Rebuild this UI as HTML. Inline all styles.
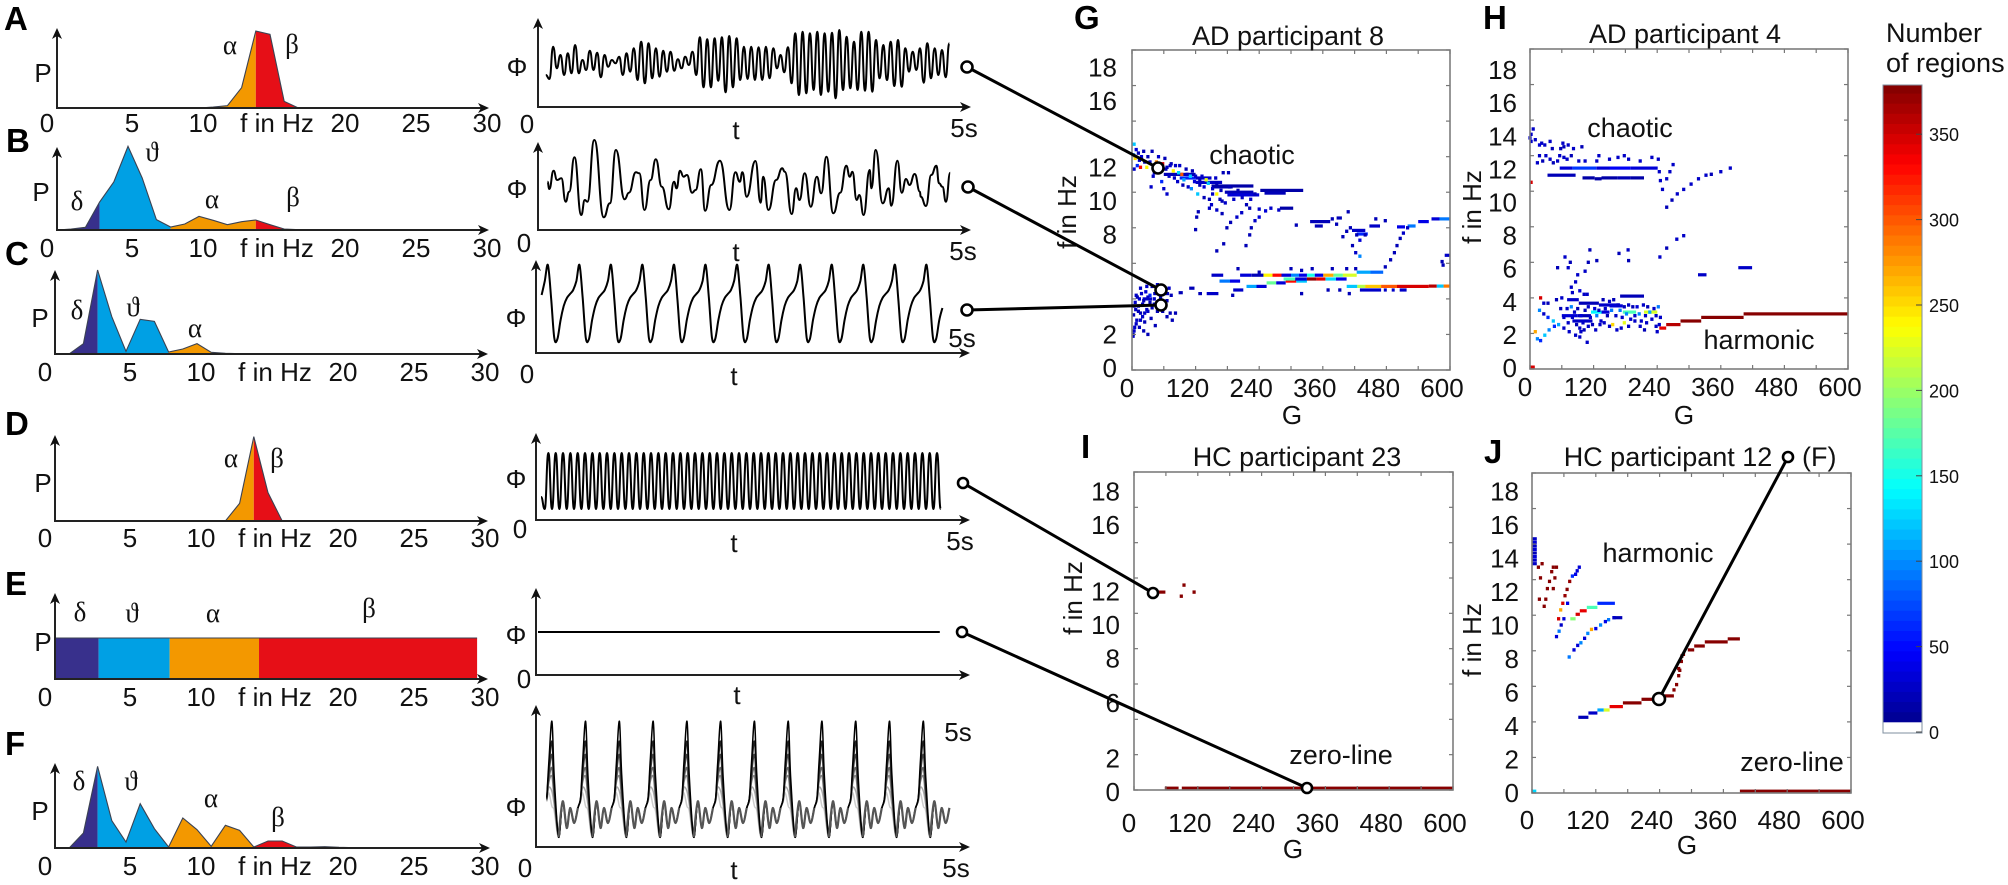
<!DOCTYPE html>
<html lang="en">
<head>
<meta charset="utf-8">
<title>Spectra, time series and bifurcation panels</title>
<style>
html,body{margin:0;padding:0;background:#fff;}
svg{display:block;}
text{font-family:"Liberation Sans",sans-serif;fill:#111;}
.t26{font-size:26px;}
.t27{font-size:27px;}
.letter{font-size:33px;font-weight:bold;fill:#000;}
.greek{font-family:"Liberation Serif","DejaVu Serif",serif;font-size:27px;}
</style>
</head>
<body>
<svg id="figure" xmlns="http://www.w3.org/2000/svg" width="2008" height="885" viewBox="0 0 2008 885">
<rect x="0" y="0" width="2008" height="885" fill="#fff"/>
<g id="marks"></g>

<g>
<text class="letter" x="4" y="30">A</text>
<text class="letter" x="6" y="152">B</text>
<text class="letter" x="5" y="265">C</text>
<text class="letter" x="5" y="435">D</text>
<text class="letter" x="5" y="595">E</text>
<text class="letter" x="5" y="755">F</text>
<text class="letter" x="1074" y="29">G</text>
<text class="letter" x="1483" y="29">H</text>
<text class="letter" x="1081" y="458">I</text>
<text class="letter" x="1484" y="463">J</text>
</g>

<g text-anchor="middle" class="t26">
<text x="43" y="82">P</text>
<text x="41" y="201">P</text>
<text x="40" y="327">P</text>
<text x="43" y="492">P</text>
<text x="43" y="651">P</text>
<text x="40" y="820">P</text>
</g>

<g text-anchor="middle" class="greek">
<text class="greek" x="230" y="54">α</text>
<text class="greek" x="292" y="53">β</text>
<text class="greek" x="77" y="210">δ</text>
<text class="greek" x="152" y="161">ϑ</text>
<text class="greek" x="212" y="208">α</text>
<text class="greek" x="293" y="206">β</text>
<text class="greek" x="77" y="319">δ</text>
<text class="greek" x="133" y="316">ϑ</text>
<text class="greek" x="195" y="337">α</text>
<text class="greek" x="231" y="467">α</text>
<text class="greek" x="277" y="467">β</text>
<text class="greek" x="80" y="621">δ</text>
<text class="greek" x="132" y="622">ϑ</text>
<text class="greek" x="213" y="622">α</text>
<text class="greek" x="369" y="617">β</text>
<text class="greek" x="79" y="790">δ</text>
<text class="greek" x="131" y="790">ϑ</text>
<text class="greek" x="211" y="807">α</text>
<text class="greek" x="278" y="826">β</text>
</g>

<g text-anchor="middle" class="t26">
<text x="517" y="76">Φ</text>
<text x="517" y="198">Φ</text>
<text x="516" y="327">Φ</text>
<text x="516" y="488">Φ</text>
<text x="516" y="644">Φ</text>
<text x="516" y="816">Φ</text>
<text x="527" y="133">0</text>
<text x="524" y="252">0</text>
<text x="527" y="383">0</text>
<text x="520" y="538">0</text>
<text x="524" y="688">0</text>
<text x="525" y="877">0</text>
<text x="736" y="139">t</text>
<text x="736" y="261">t</text>
<text x="734" y="385">t</text>
<text x="734" y="552">t</text>
<text x="737" y="704">t</text>
<text x="734" y="879">t</text>
<text x="964" y="137">5s</text>
<text x="963" y="260">5s</text>
<text x="962" y="347">5s</text>
<text x="960" y="550">5s</text>
<text x="958" y="741">5s</text>
<text x="956" y="877">5s</text>
</g>

<g text-anchor="middle" class="t27">
<text x="1288" y="45">AD participant 8</text>
<text x="1685" y="43">AD participant 4</text>
<text x="1297" y="466">HC participant 23</text>
<text x="1668" y="466">HC participant 12</text>
<text x="1802" y="466" text-anchor="start">(F)</text>
</g>

<g text-anchor="middle" class="t26">
<text x="1292" y="424">G</text>
<text x="1684" y="424">G</text>
<text x="1293" y="858">G</text>
<text x="1687" y="854">G</text>
<text transform="translate(1076 212) rotate(-90)">f in Hz</text>
<text transform="translate(1481 207) rotate(-90)">f in Hz</text>
<text transform="translate(1082 598) rotate(-90)">f in Hz</text>
<text transform="translate(1481 640) rotate(-90)">f in Hz</text>
</g>

<g text-anchor="middle" class="t27">
<text x="1252" y="164">chaotic</text>
<text x="1630" y="137">chaotic</text>
<text x="1759" y="349">harmonic</text>
<text x="1341" y="764">zero-line</text>
<text x="1658" y="562">harmonic</text>
<text x="1792" y="771">zero-line</text>
</g>

<g class="t27">
<text x="1886" y="42">Number</text>
<text x="1886" y="72">of regions</text>
</g>
<g id="overlay"></g>
</svg>

<script>
/* ---------- spectra: power per 1 Hz bin, index = frequency in Hz ---------- */
const spectrumA = [0,0,0,0,0,0,0,0,0,0,0,3,7,61,231,221,20,0,0,0,0,0,0,0,0,0,0,0,0,0,0];
const spectrumB = [0,3,8,84,144,251,156,31,9,18,41,29,16,25,30,16,3,1,1,1,0,0,0,0,0,0,0,0,0,0,0];
const spectrumC = [0,0,31,252,112,8,104,98,6,15,31,5,2,1,1,0,1,1,0,0,0,0,0,0,0,0,0,0,0,0,0];
const spectrumD = [0,0,0,0,0,0,0,0,0,0,0,0,0,53,253,85,0,0,0,0,0,0,0,0,0,0,0,0,0,0,0];
const spectrumE = [123,123,123,123,123,123,123,123,123,123,123,123,123,123,123,123,123,123,123,123,123,123,123,123,123,123,123,123,123,123,123];
const spectrumF = [0,0,45,245,82,18,133,58,3,90,55,5,68,53,3,21,21,3,3,4,2,1,1,1,0,0,0,0,0,0,0];
const freqTickValues = [0,5,10,20,25,30];
const bandEdges = [3,8,14];
const bandEdgesE = [3.1,8.15,14.5];

/* ---------- time series (potential in arbitrary units) ---------- */
const traceA = [96,84,181,116,156,96,161,101,186,101,141,111,169,111,163,89,156,121,141,131,151,96,161,106,176,81,196,71,191,86,176,91,169,106,166,109,143,116,151,126,166,96,209,59,203,59,206,79,209,44,213,59,206,81,181,84,181,81,179,81,181,86,176,116,156,104,179,71,221,36,226,41,221,51,226,36,221,46,223,26,231,51,211,56,196,51,226,49,226,46,201,86,186,81,196,63,201,61,176,106,166,111,176,73,191,86,176,96,171,89,191];
const traceBTime = [0.11,0.13,0.18,0.22,0.27,0.32,0.36,0.42,0.50,0.54,0.57,0.65,0.76,0.83,0.90,1.00,1.05,1.13,1.17,1.23,1.30,1.36,1.43,1.51,1.57,1.60,1.64,1.68,1.72,1.78,1.82,1.88,1.93,2.00,2.10,2.21,2.28,2.33,2.36,2.41,2.51,2.57,2.60,2.66,2.75,2.82,2.85,2.93,2.98,3.02,3.08,3.15,3.22,3.27,3.33,3.41,3.49,3.56,3.60,3.63,3.68,3.71,3.76,3.83,3.85,3.90,3.98,4.05,4.08,4.15,4.20,4.25,4.29,4.35,4.41,4.42,4.48,4.54,4.60,4.63,4.67,4.71,4.76];
const traceBValue = [145,123,178,150,155,85,115,218,45,90,85,270,38,80,240,92,112,173,170,60,150,212,130,62,145,125,178,160,165,112,120,182,58,135,208,60,173,145,173,100,207,82,160,60,150,185,175,48,125,90,170,70,160,110,220,50,112,193,160,175,90,105,45,180,125,240,80,125,73,208,112,153,135,168,115,100,72,165,193,140,130,85,172];
const traceC = [58,72,
88,55,15,14,33,47,55,59,63,72,88,55,15,14,33,47,55,59,63,72,88,55,15,14,33,47,55,59,63,72,
88,55,15,14,33,47,55,59,63,72,88,55,15,14,33,47,55,59,63,72,88,55,15,14,33,47,55,59,63,72,
88,55,15,14,33,47,55,59,63,72,88,55,15,14,33,47,55,59,63,72,88,55,15,14,33,47,55,59,63,72,
88,55,15,14,33,47,55,59,63,72,88,55,15,14,33,47,55,59,63,72,88,55,15,14,33,47,55,59,63,72,
88,55,15,14,33,45];
const traceD = [23,11,67,11,67,11,67,11,67,11,67,11,67,11,67,11,67,11,67,11,67,11,67,11,67,11,67,11,67,11,67,11,67,11,67,11,67,11,67,11,67,11,67,11,67,11,67,11,67,11,67,11,67,11,67,11,67,11,67,11,67,11,67,11,67,11,67,11,67,11,67,11,67,11,67,11,67,11,67,11,67,11,67,11,67,11,67,11,67,11,67,11,67,11,67,11,67,11,67,11,67,11,67,11,67,11,67,11,67,11];
const traceE = [43,43];
const traceFPeakTimes = [0.16,0.55,0.94,1.33,1.72,2.11,2.50,2.89,3.28,3.67,4.06,4.45];
const traceFLayerPeaks = [122,167,212,237,277,317,377];
const traceFCyclePhase = [0,0.07,0.20,0.32,0.44,0.54,0.66,0.77,0.85,0.91];
const traceFCycleValue = [0,60,30,137,57,117,72,117,130,120];
const traceFCyclePeakShare = [1,0.4,0,0,0,0,0,0,0.05,0.35];

/* ---------- bifurcation heatmaps: [G start, G end, f in Hz, number of regions] ---------- */
const runsG = [[88,96,4.35,20],[108,118,4.6,20],[125,132,4.3,20],[141,163,4.3,25],[150,172,5.33,25],[165,185,5.0,90],[185,204,5.0,40],[204,225,5.33,30],[225,248,5.33,20],[248,265,5.33,240],[265,282,5.33,330],[282,300,5.33,30],[300,315,5.33,100],[315,330,5.33,40],[330,345,5.33,150],[345,361,5.33,40],[361,380,5.33,270],[380,398,5.33,180],[398,424,5.33,220],[424,450,5.5,110],[450,474,5.5,85],[216,235,4.7,110],[235,254,4.7,30],[254,272,4.9,180],[272,290,4.9,30],[290,310,5.0,330],[310,330,5.0,120],[286,308,5.12,170],[308,330,5.12,30],[330,348,5.12,370],[348,365,5.12,340],[365,385,5.12,130],[385,405,5.12,40],[191,210,4.5,25],[405,425,4.7,120],[425,440,4.7,210],[440,470,4.7,260],[470,500,4.7,300],[500,560,4.7,345],[560,575,4.72,360],[575,588,4.72,120],[588,600,4.72,290],[430,470,4.5,25],[475,480,4.5,25],[490,495,4.5,25],[505,518,4.5,25],[500,515,8.05,40],[520,535,8.1,90],[540,560,8.35,40],[565,580,8.5,30],[580,600,8.5,90],[60,120,11.0,18],[90,120,10.8,60],[120,150,10.8,25],[120,170,10.55,25],[150,190,10.3,20],[150,229,10.35,15],[175,229,10.0,18],[180,240,9.85,30],[242,323,10.1,15],[250,290,9.95,20],[279,304,9.1,15],[336,374,8.35,18],[386,396,8.55,18],[345,360,8.1,18],[448,468,8.1,25],[415,440,7.85,25],[424,445,7.65,60],[590,600,6.45,25],[40,70,4.3,20],[20,38,4.0,25],[46,58,4.5,22]];
const dotsG = [[4,12.7,120],[8,12.4,30],[3,12.1,100],[12,12.2,20],[6,11.9,250],[14,11.8,25],[18,12.0,30],[22,12.3,20],[10,11.5,60],[4,11.3,25],[16,11.4,330],[24,11.7,20],[30,12.0,20],[28,11.4,240],[34,11.7,30],[38,12.3,20],[42,11.1,25],[46,11.7,280],[50,12.0,25],[54,11.2,120],[58,11.6,350],[62,11.9,20],[66,11.4,20],[70,10.9,25],[74,11.6,20],[78,11.2,240],[82,11.5,25],[86,10.6,25],[90,11.5,25],[94,11.0,300],[98,10.7,110],[102,11.3,20],[106,10.3,25],[110,10.9,130],[114,11.2,20],[118,10.6,30],[124,9.9,120],[128,10.4,20],[132,10.9,25],[136,10.3,30],[140,10.7,230],[146,9.6,20],[152,10.2,25],[158,10.8,25],[160,9.9,240],[166,9.6,20],[172,11.1,20],[182,11.1,20],[120,7.9,20],[125,8.9,20],[122,8.6,20],[146,9.1,25],[150,9.3,25],[170,9.5,20],[36,10.3,25],[60,10.2,25],[66,9.9,25],[179,8.0,20],[186,8.3,20],[198,8.6,25],[207,8.85,25],[222,9.1,20],[240,9.05,25],[215,7.0,20],[222,7.6,20],[225,8.0,20],[232,8.4,25],[240,8.6,30],[252,8.95,30],[262,9.1,25],[277,9.0,25],[160,6.7,20],[173,7.1,20],[478,5.8,20],[488,6.2,20],[495,6.6,20],[500,7.0,20],[506,7.4,20],[512,7.7,25],[520,8.0,25],[398,7.5,20],[405,7.8,20],[412,8.0,20],[424,7.6,20],[430,7.3,30],[416,7.0,20],[422,6.6,25],[430,6.4,100],[440,7.6,20],[408,8.9,20],[378,8.5,20],[386,8.2,20],[478,8.4,20],[460,8.5,20],[585,6.1,20],[587,5.9,20],[310,8.15,20],[200,5.7,20],[240,5.5,20],[300,5.7,20],[320,5.6,20],[340,5.7,20],[378,5.7,20],[405,5.7,20],[422,5.7,20],[190,4.2,20],[320,4.3,20],[370,4.5,20],[392,4.5,20],[410,4.3,20],[8,4.2,25],[14,4.0,30],[4,3.6,25],[20,3.7,20],[28,3.4,25],[34,4.2,60],[12,3.3,20],[24,3.2,25],[42,3.7,30],[48,3.3,20],[16,2.8,25],[8,2.6,25],[4,2.2,25],[2,1.9,25],[56,3.9,25],[62,3.5,20],[72,3.2,20],[82,3.2,20],[66,3.0,20],[76,2.8,20],[2,2.0,20],[5,2.4,25],[9,2.8,25],[3,3.1,20],[7,3.4,25],[12,3.6,30],[16,3.2,20],[20,3.0,25],[24,2.7,20],[14,2.4,20],[6,3.8,25],[10,4.1,20],[18,4.3,25],[22,3.9,20],[26,4.4,30],[30,4.1,25],[34,3.8,20],[30,3.3,25],[38,3.5,20],[42,4.0,25],[46,4.4,20],[50,3.7,25],[54,4.1,20],[36,2.9,20],[44,2.5,20],[58,3.3,20],[62,4.4,25],[66,3.9,20],[70,4.6,25],[74,4.2,20],[28,4.7,25],[38,4.7,20],[48,4.8,25],[58,4.7,20],[16,4.6,25],[22,2.2,20],[30,2.0,20],[40,10.9,25],[48,11.2,20],[56,10.6,60],[64,11.3,20],[72,11.5,25],[80,10.8,25],[88,11.1,130],[96,10.4,20],[104,11.0,25],[112,10.2,100],[120,10.9,25],[128,10.7,20],[136,9.7,20],[144,10.5,120],[152,9.9,25],[160,10.5,20],[168,10.1,20],[176,9.4,25],[184,10.3,20],[192,9.6,25],[200,10.1,20],[208,9.7,25],[216,9.3,20],[224,9.6,25],[232,9.9,20],[160,9.0,25],[170,8.8,20]];
const runsH = [[244,257,2.3,340],[257,284,2.5,360],[284,323,2.7,375],[323,403,2.9,375],[403,600,3.1,378],[56,80,11.3,30],[80,125,11.3,70],[125,150,11.3,35],[150,190,11.3,45],[190,241,11.3,35],[33,86,10.9,18],[99,122,10.75,15],[122,135,10.7,15],[135,165,10.75,15],[165,190,10.75,18],[190,215,10.75,15],[393,419,5.7,25],[317,333,5.3,25],[70,92,3.9,25],[92,130,3.7,22],[130,170,3.6,25],[115,135,3.2,140],[135,150,3.2,30],[150,175,3.55,30],[175,200,3.2,170],[170,215,4.1,20],[215,240,3.2,220],[60,90,3.0,35],[90,115,3.0,20],[80,118,2.7,25]];
const dotsH = [[2,13.2,25],[6,13.5,25],[0,13.0,25],[2,12.8,25],[10,12.9,25],[18,12.6,30],[22,12.7,25],[28,12.6,25],[38,12.8,25],[42,12.4,20],[58,12.4,20],[62,12.7,25],[64,12.5,20],[72,12.6,25],[82,12.4,25],[98,12.5,20],[18,12.0,25],[24,11.7,20],[14,11.6,25],[30,12.0,25],[38,11.8,25],[44,11.6,20],[52,11.7,25],[56,12.0,25],[64,11.9,25],[70,11.8,25],[78,12.0,20],[92,11.7,25],[104,11.7,25],[130,12.0,25],[126,11.7,25],[150,11.8,25],[166,11.9,25],[178,12.0,25],[186,11.8,25],[208,11.7,25],[230,11.9,25],[242,11.8,25],[244,11.1,25],[246,10.6,25],[250,10.1,25],[270,11.5,25],[264,11.1,25],[258,10.7,25],[2,10.5,350],[258,9.1,20],[268,9.5,20],[278,9.85,25],[290,10.1,25],[304,10.4,25],[318,10.7,25],[332,10.9,25],[342,10.95,20],[360,11.1,25],[378,11.3,25],[245,6.3,25],[258,6.8,20],[277,7.3,25],[290,7.5,25],[185,6.7,25],[186,6.1,20],[168,6.5,20],[126,6.1,20],[113,6.7,20],[76,6.0,20],[72,5.7,25],[52,5.7,20],[66,6.3,25],[90,5.3,25],[104,5.5,25],[110,6.0,20],[86,4.9,25],[78,4.6,25],[80,4.3,25],[102,4.2,25],[94,4.4,30],[108,4.2,25],[60,4.0,25],[50,3.9,20],[34,3.7,20],[20,4.0,350],[26,3.7,25],[18,3.3,100],[26,3.1,25],[34,2.9,60],[44,2.7,120],[54,2.5,110],[64,2.3,25],[74,2.1,25],[10,2.1,270],[14,1.7,100],[20,1.6,60],[28,1.9,120],[36,2.2,100],[46,2.4,60],[96,2.1,25],[86,1.9,25],[94,1.8,25],[108,1.5,25],[124,2.2,25],[132,2.5,25],[156,2.5,250],[164,2.2,25],[178,2.6,230],[198,2.7,25],[220,2.6,25],[238,2.4,25],[240,2.1,25],[2,0.1,350],[6,0.1,350],[70,3.4,25],[78,3.5,100],[84,3.2,25],[90,3.4,20],[96,3.0,30],[100,2.6,25],[104,3.3,20],[110,3.5,25],[114,2.9,25],[118,2.5,20],[122,3.4,30],[126,3.0,90],[130,3.3,25],[134,2.7,25],[138,3.9,20],[142,3.4,25],[146,3.0,20],[150,3.8,25],[154,3.3,90],[158,3.9,20],[162,3.0,25],[166,3.6,25],[170,3.3,90],[174,2.9,25],[178,3.5,20],[182,3.1,100],[186,3.6,25],[190,2.8,25],[194,3.5,20],[198,3.0,25],[202,3.5,30],[206,3.1,100],[210,2.7,25],[214,3.6,25],[218,3.0,25],[222,3.5,20],[226,3.2,110],[230,2.8,25],[234,3.4,25],[238,3.0,25],[242,3.5,90],[246,2.9,25],[244,2.5,25],[58,3.4,20],[64,2.9,25],[72,2.6,25],[80,2.9,25],[88,2.5,20],[94,2.3,25],[102,2.2,20],[110,2.4,25],[140,2.6,25],[150,2.4,25],[172,2.3,25],[186,2.4,25],[208,2.4,25],[216,2.2,20]];
const runsI = [[28,59,11.2,378],[58,84,0.1,378],[90,600,0.1,378]];
const dotsI = [[94,11.6,378],[89,10.97,378],[113,11.2,378]];
const runsJ = [[0,9,14.3,25],[0,9,14.1,30],[0,9,13.9,25],[0,9,13.7,30],[0,9,13.5,20],[0,9,13.3,35],[0,9,13.1,25],[0,9,12.9,25],[87,106,4.26,20],[106,123,4.5,25],[123,135,4.67,110],[135,146,4.67,220],[146,171,4.86,340],[171,206,5.07,378],[206,230,5.27,378],[250,267,5.46,378],[293,305,8.05,378],[305,325,8.27,378],[325,368,8.5,378],[368,391,8.67,378],[391,600,0.1,378],[0,8,0.1,130],[72,82,9.8,190],[82,90,10.05,350],[90,103,10.25,340],[103,123,10.44,170],[123,156,10.67,60],[156,170,9.86,20]];
const dotsJ = [[46,8.8,30],[51,9.1,90],[55,9.45,25],[60,9.8,30],[50,9.8,350],[54,10.3,270],[58,10.67,350],[62,11.1,370],[66,11.45,378],[71,11.9,370],[76,12.2,60],[82,12.3,40],[85,12.5,35],[89,12.7,30],[67,10.67,40],[70,7.65,90],[79,8.05,30],[86,8.3,30],[92,8.45,100],[99,8.7,30],[105,8.98,100],[112,9.2,270],[120,9.25,40],[129,9.45,100],[138,9.64,40],[144,9.75,90],[154,9.86,25],[12,12.7,378],[19,12.9,378],[16,12.1,378],[29,11.5,378],[33,11.9,378],[37,12.45,378],[40,12.7,378],[46,12.7,378],[43,12.1,378],[40,11.5,378],[14,10.9,378],[26,10.9,378],[23,10.5,378],[267,5.8,378],[272,6.1,378],[276,6.6,378],[278,6.9,378],[276,7.0,378],[281,7.4,378],[282,7.7,378],[285,7.8,378]];

const xTickLabels = [0,120,240,360,480,600];
const xTickMarks = [0,60,120,180,240,300,360,420,480,540,600];
const yTickMarks = [0,2,4,6,8,10,12,14,16,18];
const yLabelsG = [18,16,12,10,8,2,0];
const yLabelsH = [18,16,14,12,10,8,6,4,2,0];
const yLabelsI = [18,16,12,10,8,6,2,0];
const yLabelsJ = [18,16,14,12,10,8,6,4,2,0];
const colorbarTicks = [0,50,100,150,200,250,300,350];

const SVGNS = 'http://www.w3.org/2000/svg';
const marks = document.getElementById('marks');
const overlay = document.getElementById('overlay');

function mk(parent, tag, name, attrs) {
  const el = document.createElementNS(SVGNS, tag);
  
  
  for (const k in attrs) el.setAttribute(k, attrs[k]);
  parent.appendChild(el);
  return el;
}
function label(parent, name, x, y, str, size, anchor) {
  const el = mk(parent, 'text', name, {x: x, y: y, 'text-anchor': anchor || 'middle', 'font-size': size});
  el.textContent = str;
  return el;
}
function upArrow(parent, name, x, yBottom, yTop) {
  mk(parent, 'line', name + '-line', {x1: x, y1: yBottom, x2: x, y2: yTop + 4, stroke: '#222', 'stroke-width': 2});
  mk(parent, 'polygon', name + '-head', {points: `${x},${yTop} ${x+5},${yTop+11} ${x},${yTop+8} ${x-5},${yTop+11}`, fill: '#111'});
}
function rightArrow(parent, name, xLeft, xRight, y) {
  mk(parent, 'line', name + '-line', {x1: xLeft - 1, y1: y, x2: xRight - 4, y2: y, stroke: '#222', 'stroke-width': 2});
  mk(parent, 'polygon', name + '-head', {points: `${xRight},${y} ${xRight-11},${y-5} ${xRight-8},${y} ${xRight-11},${y+5}`, fill: '#111'});
}

/* ---------- spectrum panels ---------- */
const bandColors = ['#38308c', '#00a0e4', '#f39800', '#e60f17'];
const bandNames = ['delta', 'theta', 'alpha', 'beta'];
function valueAt(values, f) {
  const i = Math.floor(f);
  if (i >= values.length - 1) return values[values.length - 1];
  return values[i] + (values[i + 1] - values[i]) * (f - i);
}
function drawSpectrum(id, values, edges, ox, axisY, top, tip, labelY, perHz, fMax) {
  const g = mk(marks, 'g', 'spectrum-panel-' + id, {});
  const xs = f => ox + f * perHz;
  const ys = v => axisY - v / 3;
  const lims = [0].concat(edges).concat([fMax]);
  for (let b = 0; b < 4; b++) {
    const a = lims[b], z = lims[b + 1];
    let pts = [`${xs(a)},${axisY}`, `${xs(a)},${ys(valueAt(values, a))}`];
    for (let f = Math.ceil(a + 1e-6); f < z; f++) pts.push(`${xs(f)},${ys(values[f])}`);
    pts.push(`${xs(z)},${ys(valueAt(values, z))}`, `${xs(z)},${axisY}`);
    mk(g, 'polygon', 'spectrum-band-' + bandNames[b] + '-' + id, {points: pts.join(' '), fill: bandColors[b]});
  }
  let line = [];
  for (let f = 0; f <= fMax; f++) line.push(`${xs(f)},${ys(values[f])}`);
  mk(g, 'polyline', 'spectrum-outline-' + id, {points: line.join(' '), fill: 'none', stroke: '#3b4252', 'stroke-width': 1.1});
  upArrow(g, 'power-axis-' + id, ox, axisY, top);
  rightArrow(g, 'frequency-axis-' + id, ox, tip, axisY);
  freqTickValues.forEach(v => {
    const px = v === 0 ? xs(0) - 10 : ox + v * 14.2 + 4;
    label(g, 'frequency-tick-' + id + '-' + v, px, labelY + 9, String(v), 26);
  });
  label(g, 'frequency-axis-title-' + id, ox + 15 * 14.2 + 7, labelY + 9, 'f in Hz', 26);
}
drawSpectrum('a', spectrumA, bandEdges, 57, 108, 28, 489, 123, 14.2, 30);
drawSpectrum('b', spectrumB, bandEdges, 57, 230, 147, 489, 248, 14.2, 30);
drawSpectrum('c', spectrumC, bandEdges, 55, 354, 270, 488, 372, 14.2, 30);
drawSpectrum('d', spectrumD, bandEdges, 55, 521, 435, 488, 538, 14.2, 30);
drawSpectrum('e', spectrumE, bandEdgesE, 55, 679, 593, 488, 697, 14.07, 30);
drawSpectrum('f', spectrumF, bandEdges, 55, 848, 763, 490, 866, 14.2, 30);

/* ---------- time-series panels ---------- */
const tX = t => 538 + t * 86.6;
function smoothExtrema(p) {
  let d = `M${p[0][0].toFixed(1)} ${p[0][1].toFixed(1)}`;
  for (let i = 1; i < p.length; i++) {
    const m = (p[i - 1][0] + p[i][0]) / 2;
    d += `C${m.toFixed(1)} ${p[i-1][1].toFixed(1)} ${m.toFixed(1)} ${p[i][1].toFixed(1)} ${p[i][0].toFixed(1)} ${p[i][1].toFixed(1)}`;
  }
  return d;
}
function smoothCatmull(p) {
  let d = `M${p[0][0].toFixed(1)} ${p[0][1].toFixed(1)}`;
  for (let i = 0; i < p.length - 1; i++) {
    const a = p[Math.max(i - 1, 0)], b = p[i], c = p[i + 1], e = p[Math.min(i + 2, p.length - 1)];
    d += `C${(b[0]+(c[0]-a[0])/6).toFixed(1)} ${(b[1]+(c[1]-a[1])/6).toFixed(1)} ${(c[0]-(e[0]-b[0])/6).toFixed(1)} ${(c[1]-(e[1]-b[1])/6).toFixed(1)} ${c[0].toFixed(1)} ${c[1].toFixed(1)}`;
  }
  return d;
}
function uniformPoints(values, t0, t1, axisY, unit) {
  return values.map((v, i) => [tX(t0 + i * (t1 - t0) / (values.length - 1)), axisY - v * unit]);
}
function timeAxes(id, ox, axisY, top, tip) {
  const g = mk(marks, 'g', 'time-series-panel-' + id, {});
  upArrow(g, 'potential-axis-' + id, ox, axisY, top);
  rightArrow(g, 'time-axis-' + id, ox, tip, axisY);
  return g;
}
const gA = timeAxes('a', 538, 107, 18, 971);
mk(gA, 'path', 'trace-a', {d: smoothExtrema(uniformPoints(traceA, 0.09, 4.75, 107, 1 / 3)), fill: 'none', stroke: '#000', 'stroke-width': 2});
const gB = timeAxes('b', 538, 230, 142, 971);
mk(gB, 'path', 'trace-b', {d: smoothExtrema(traceBValue.map((v, i) => [tX(traceBTime[i]), 230 - v / 3])), fill: 'none', stroke: '#000', 'stroke-width': 2});
const gC = timeAxes('c', 536, 353, 260, 970);
mk(gC, 'path', 'trace-c', {d: smoothCatmull(uniformPoints(traceC, 0.042, 4.67, 353, 1)), fill: 'none', stroke: '#000', 'stroke-width': 2});
const gD = timeAxes('d', 536, 520, 433, 970);
mk(gD, 'path', 'trace-d', {d: smoothExtrema(uniformPoints(traceD, 0.035, 4.65, 520, 1)), fill: 'none', stroke: '#000', 'stroke-width': 2});
const gE = timeAxes('e', 536, 675, 588, 970);
mk(gE, 'path', 'trace-e', {d: smoothExtrema(uniformPoints(traceE, 0, 4.64, 675, 1)), fill: 'none', stroke: '#000', 'stroke-width': 2});
const gF = timeAxes('f', 536, 847, 705, 970);
const fLayerColors = ['#ccc', '#aaa', '#888', '#666', '#444', '#222', '#000'];
const fPeriod = traceFPeakTimes[1] - traceFPeakTimes[0];
const fY = (peak, j) => 847 - (traceFCycleValue[j] + peak * traceFCyclePeakShare[j]) / 3;
traceFLayerPeaks.forEach((peak, li) => {
  const pts = [];
  pts.push([tX(traceFPeakTimes[0] + (traceFCyclePhase[8] - 1) * fPeriod), fY(peak, 8)]);
  pts.push([tX(traceFPeakTimes[0] + (traceFCyclePhase[9] - 1) * fPeriod), fY(peak, 9)]);
  traceFPeakTimes.forEach((t, c) => {
    const last = c === traceFPeakTimes.length - 1;
    traceFCyclePhase.forEach((ph, j) => {
      if (last && j > 7) return;
      pts.push([tX(t + ph * fPeriod), fY(peak, j)]);
    });
  });
  mk(gF, 'path', 'trace-f-layer-' + (li + 1), {d: smoothCatmull(pts), fill: 'none', stroke: fLayerColors[li], 'stroke-width': 1.5});
});
traceFPeakTimes.forEach((t, c) => {
  const pts = [];
  traceFCyclePhase.forEach((ph, j) => {
    if (j < 1 || j > 7) return;
    pts.push([tX(t + ph * fPeriod), fY(traceFLayerPeaks[0], j)]);
  });
  mk(gF, 'path', 'trace-f-oscillation-' + (c + 1), {d: smoothCatmull(pts.slice(1)), fill: 'none', stroke: '#555', 'stroke-width': 2.2});
});

/* ---------- colormap ---------- */
function jet(n) {
  const band = Math.min(63, Math.floor(n / 380 * 64));
  const x = (band + 0.5) / 64;
  const c = v => Math.round(255 * Math.max(0, Math.min(1, v)));
  return `rgb(${c(1.5 - Math.abs(4 * x - 3))},${c(1.5 - Math.abs(4 * x - 2))},${c(1.5 - Math.abs(4 * x - 1))})`;
}

/* ---------- heatmap panels ---------- */
function drawHeatmap(id, box, runs, dots, yLabels, labelRight, labelZero, labelStep, xLabelY) {
  const g = mk(marks, 'g', 'heatmap-panel-' + id, {});
  const xs = v => box.l + v / 600 * (box.r - box.l);
  const ys = f => box.b - f / 18 * (box.b - box.t);
  runs.forEach((r, i) => {
    mk(g, 'rect', 'heat-run-' + id + '-' + i, {x: xs(r[0]).toFixed(1), y: (ys(r[2]) - 1.6).toFixed(1), width: Math.max(3, xs(r[1]) - xs(r[0])).toFixed(1), height: 3.2, fill: jet(r[3])});
  });
  dots.forEach((d, i) => {
    mk(g, 'rect', 'heat-cell-' + id + '-' + i, {x: (xs(d[0]) - 1.6).toFixed(1), y: (ys(d[1]) - 1.7).toFixed(1), width: 3.2, height: 3.4, fill: jet(d[2])});
  });
  mk(g, 'rect', 'heatmap-frame-' + id, {x: box.l, y: box.t, width: box.r - box.l, height: box.b - box.t, fill: 'none', stroke: '#7d7d7d', 'stroke-width': 1.6});
  xTickMarks.forEach(v => {
    mk(g, 'line', 'x-tick-bottom-' + id + '-' + v, {x1: xs(v), x2: xs(v), y1: box.b, y2: box.b - 4, stroke: '#777', 'stroke-width': 1.2});
    mk(g, 'line', 'x-tick-top-' + id + '-' + v, {x1: xs(v), x2: xs(v), y1: box.t, y2: box.t + 4, stroke: '#777', 'stroke-width': 1.2});
  });
  yTickMarks.forEach(v => {
    mk(g, 'line', 'y-tick-left-' + id + '-' + v, {x1: box.l, x2: box.l + 4, y1: ys(v), y2: ys(v), stroke: '#777', 'stroke-width': 1.2});
    mk(g, 'line', 'y-tick-right-' + id + '-' + v, {x1: box.r, x2: box.r - 4, y1: ys(v), y2: ys(v), stroke: '#777', 'stroke-width': 1.2});
  });
  xTickLabels.forEach(v => {
    label(g, 'x-tick-label-' + id + '-' + v, xs(v) + (v === 0 ? -5 : -8), xLabelY + 9, String(v), 26);
  });
  yLabels.forEach(v => {
    const nudge = id === 'i' && v === 6 ? 11 : 0;
    label(g, 'y-tick-label-' + id + '-' + v, labelRight, labelZero - v * labelStep + 9 + nudge, String(v), 26, 'end');
  });
}
drawHeatmap('g', {l: 1132, r: 1450, t: 50, b: 370}, runsG, dotsG, yLabelsG, 1117, 368, 16.7, 388);
drawHeatmap('h', {l: 1530, r: 1848, t: 49, b: 369}, runsH, dotsH, yLabelsH, 1517, 368, 16.55, 387);
drawHeatmap('i', {l: 1134, r: 1453, t: 472, b: 790}, runsI, dotsI, yLabelsI, 1120, 792, 16.7, 823);
drawHeatmap('j', {l: 1532, r: 1851, t: 473, b: 793}, runsJ, dotsJ, yLabelsJ, 1519, 793, 16.75, 820);

/* ---------- colorbar ---------- */
(function () {
  const g = mk(marks, 'g', 'colorbar', {});
  const yv = v => 732 - 1.708 * v;
  const step = 380 / 64;
  for (let i = 0; i < 64; i++) {
    const lo = i * step;
    const isWhite = lo < step;
    const fill = isWhite ? '#fff' : jet(lo + step / 2);
    const top = Math.max(85, yv(lo + step));
    const bottom = i === 1 ? yv(step) : yv(lo);
    mk(g, 'rect', 'colorbar-band-' + i, {x: 1883, y: top.toFixed(1), width: 39, height: (bottom - top + 0.5).toFixed(1), fill: fill});
  }
  mk(g, 'rect', 'colorbar-frame', {x: 1883, y: 85, width: 39, height: 648, fill: 'none', stroke: '#7f8f9f', 'stroke-width': 1});
  colorbarTicks.forEach(v => {
    mk(g, 'line', 'colorbar-tick-' + v, {x1: 1916, x2: 1922, y1: yv(v), y2: yv(v), stroke: '#444', 'stroke-width': 1});
    label(g, 'colorbar-tick-label-' + v, 1929, yv(v) + 7, String(v), 18, 'start');
  });
})();

/* ---------- connector lines from traces to heatmap points ---------- */
function connector(name, x1, y1, x2, y2, r1, r2) {
  mk(overlay, 'line', name + '-line', {x1: x1, y1: y1, x2: x2, y2: y2, stroke: '#000', 'stroke-width': 3});
  mk(overlay, 'circle', name + '-start', {cx: x1, cy: y1, r: r1, fill: '#fff', stroke: '#000', 'stroke-width': 2.6});
  mk(overlay, 'circle', name + '-end', {cx: x2, cy: y2, r: r2, fill: '#fff', stroke: '#000', 'stroke-width': 2.6});
}
connector('connector-a-g', 967, 67, 1158, 168, 5.5, 5.5);
connector('connector-b-g', 968, 187, 1161, 290, 5.5, 5.5);
connector('connector-c-g', 967, 310, 1161, 305, 5.5, 5.5);
connector('connector-d-i', 963, 483, 1153, 593, 5, 5);
connector('connector-e-i', 962, 632, 1307, 788, 5, 5);
connector('connector-f-j', 1788, 457, 1659, 699, 5, 6);
</script>
</body>
</html>
